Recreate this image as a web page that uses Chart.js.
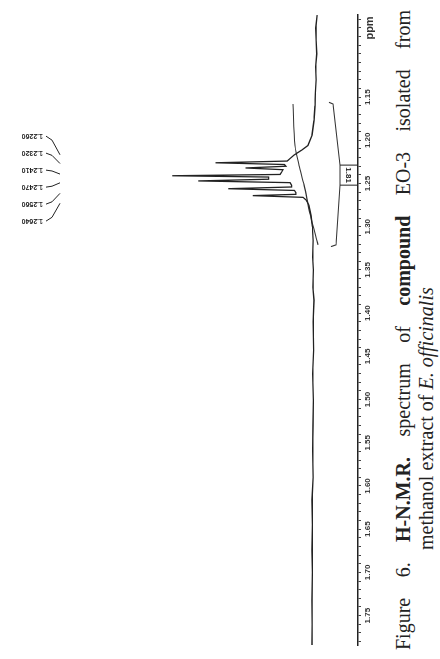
<!DOCTYPE html>
<html><head><meta charset="utf-8">
<script src="https://cdn.jsdelivr.net/npm/chart.js@4.4.0/dist/chart.umd.min.js"></script>
<style>
html,body{margin:0;padding:0;background:#fff;overflow:hidden;width:440px;height:659px}
#rot{position:absolute;left:0;top:0;width:659px;height:440px;transform-origin:0 0;transform:translateY(659px) rotate(-90deg);background:#fff}
#wrap{position:absolute;left:0;top:0;width:659px;height:390px}
.cap{position:absolute;font-family:"Liberation Serif","Times New Roman",serif;font-size:20px;line-height:22px;color:#222;white-space:nowrap}
#cap1{left:9px;width:640px;top:392px;text-align:justify;text-align-last:justify;white-space:normal}
#cap2{left:109px;top:415px}
</style></head>
<body>
<div id="rot">
  <div id="wrap"><canvas id="c"></canvas></div>
  <div class="cap" id="cap1">Figure 6. <b>H-N.M.R.</b> spectrum of <b>compound</b> EO-3 isolated from</div>
  <div class="cap" id="cap2">methanol extract of <i>E. officinalis</i></div>
</div>
<script>
// chemical shift (ppm) and relative intensity of the trace
const specPpm = [1.055,1.070,1.084,1.100,1.115,1.130,1.145,1.160,1.177,1.194,1.206,1.211,1.217,1.221,
  1.2240,1.2260,1.2280,1.2300,1.2320,1.2340,1.2370,1.2395,1.2410,1.2425,1.2450,1.2470,1.2490,
  1.2520,1.2540,1.2560,1.2580,1.2605,1.2625,1.2640,1.2660,
  1.269,1.275,1.287,1.300,1.316,1.335,1.350,1.370,1.385,1.410,1.443,1.470,1.501,1.530,1.559,1.590,1.616,1.645,1.674,1.700,1.732,1.760,1.784];
const specInt = [-0.7,0.2,0.0,-0.5,0.3,0.0,0.4,0.7,1.4,2.8,5.6,9.7,15.3,18.0,
  20,70,22,21,49,23,24,25,100,33,33,82,18,
  17,17,61,15,14,14,44,9,
  7,4.9,3.5,2.6,2.0,2.4,1.8,2.2,1.4,2.0,1.7,2.3,1.9,2.1,2.4,2.0,2.8,2.5,2.8,2.6,2.8,2.7,2.8];
// integral trace
const integPpm = [1.158,1.206,1.229,1.252,1.285,1.321];
const integVal = [16.0,14.6,11.8,8.3,4.2,-1.4];
// peak list labels
const peakPpm = [1.2640,1.2560,1.2470,1.2410,1.2320,1.2260];
const peakLabels = ['1.2640','1.2560','1.2470','1.2410','1.2320','1.2260'];
// integral region and its value
const integRegion = [1.158,1.321];
const integLabel = '1.81';
// axis labels
const majorTicks = ['1.15','1.20','1.25','1.30','1.35','1.40','1.45','1.50','1.55','1.60','1.65','1.70','1.75'];
const unitLabel = 'ppm';

const INK = '#222';
const xy = (xs, ys) => xs.map((x, i) => ({x, y: ys[i]}));

const bracket = [
  {x: integRegion[0] - 0.002, y: -9.0},
  {x: integRegion[0], y: -11.8},
  {x: 1.2287, y: -16.7},
  {x: 1.2519, y: -16.7},
  {x: integRegion[1], y: -13.9},
  {x: integRegion[1] + 0.002, y: -10.4}
];
const box = [
  {x: 1.2287, y: -16.7}, {x: 1.2287, y: -28.5}, {x: 1.2287, y: null},
  {x: 1.2519, y: -16.7}, {x: 1.2519, y: -28.5}
];

const annot = {
  id: 'annot',
  afterDatasetsDraw(chart) {
    const {ctx, scales: {x, y}} = chart;
    ctx.save();
    ctx.fillStyle = INK; ctx.strokeStyle = INK; ctx.lineWidth = 1;
    const n = peakPpm.length, sp = 17;
    const centre = peakPpm.reduce((a, b) => a + b, 0) / n;
    const cpx = x.getPixelForValue(centre);
    ctx.font = 'bold 7px Arial';
    ctx.textBaseline = 'middle'; ctx.textAlign = 'left';
    peakPpm.forEach((p, i) => {
      const lx = cpx + (i - (n - 1) / 2) * sp;
      ctx.save();
      ctx.translate(lx, 43); ctx.rotate(-Math.PI / 2);
      ctx.fillText(peakLabels[i], 0, 0);
      ctx.restore();
      const px = x.getPixelForValue(p);
      ctx.beginPath(); ctx.moveTo(lx, 46); ctx.lineTo(lx + (px - lx) * 0.15, 52); ctx.lineTo(px + (lx - px) * 0.3, 60); ctx.stroke();
    });
    const bx = (x.getPixelForValue(1.2287) + x.getPixelForValue(1.2519)) / 2;
    const by = (y.getPixelForValue(-16.7) + y.getPixelForValue(-28.5)) / 2;
    ctx.save();
    ctx.translate(bx, by); ctx.rotate(Math.PI);
    ctx.textAlign = 'center'; ctx.font = 'bold 8px Arial';
    ctx.fillText(integLabel, 0, 0);
    ctx.restore();
    ctx.restore();
  }
};

const tickVals = [];
for (let k = 106; k <= 178; k++) tickVals.push(k / 100);

new Chart(document.getElementById('c'), {
  type: 'scatter',
  data: {
    datasets: [
      {data: xy(specPpm, specInt), showLine: true, borderColor: INK, borderWidth: 1.3, pointRadius: 0, tension: 0},
      {data: xy(integPpm, integVal), showLine: true, borderColor: '#333', borderWidth: 1.1, pointRadius: 0, tension: 0.3},
      {data: bracket, showLine: true, borderColor: '#333', borderWidth: 1.1, pointRadius: 0, tension: 0},
      {data: box, showLine: true, borderColor: '#333', borderWidth: 1.1, pointRadius: 0, tension: 0, spanGaps: false}
    ]
  },
  options: {
    responsive: true, maintainAspectRatio: false, animation: false,
    layout: {padding: {left: 14, right: 15, top: 0, bottom: 0}},
    plugins: {legend: {display: false}, tooltip: {enabled: false}},
    scales: {
      x: {
        type: 'linear', reverse: true, min: 1.055, max: 1.784, position: 'bottom',
        afterBuildTicks: s => { s.ticks = tickVals.map(v => ({value: v})); },
        afterFit: s => { s.height = 32; },
        grid: {drawOnChartArea: false, drawTicks: true, tickLength: 3, color: '#444', lineWidth: 1},
        border: {display: true, color: '#222', width: 1.5},
        ticks: {
          autoSkip: false, maxRotation: 0, minRotation: 0, padding: 2, color: '#333',
          font: c => ({family: 'Arial', size: (c.tick && c.tick.value.toFixed(2) === '1.07') ? 11 : 8, weight: 'bold'}),
          callback: v => {
            const s = v.toFixed(2);
            if (majorTicks.includes(s)) return s;
            if (s === '1.07') return unitLabel;
            return '';
          }
        }
      },
      y: {type: 'linear', display: false, min: -29.2, max: 219.4}
    }
  },
  plugins: [annot]
});
</script>
</body></html>
